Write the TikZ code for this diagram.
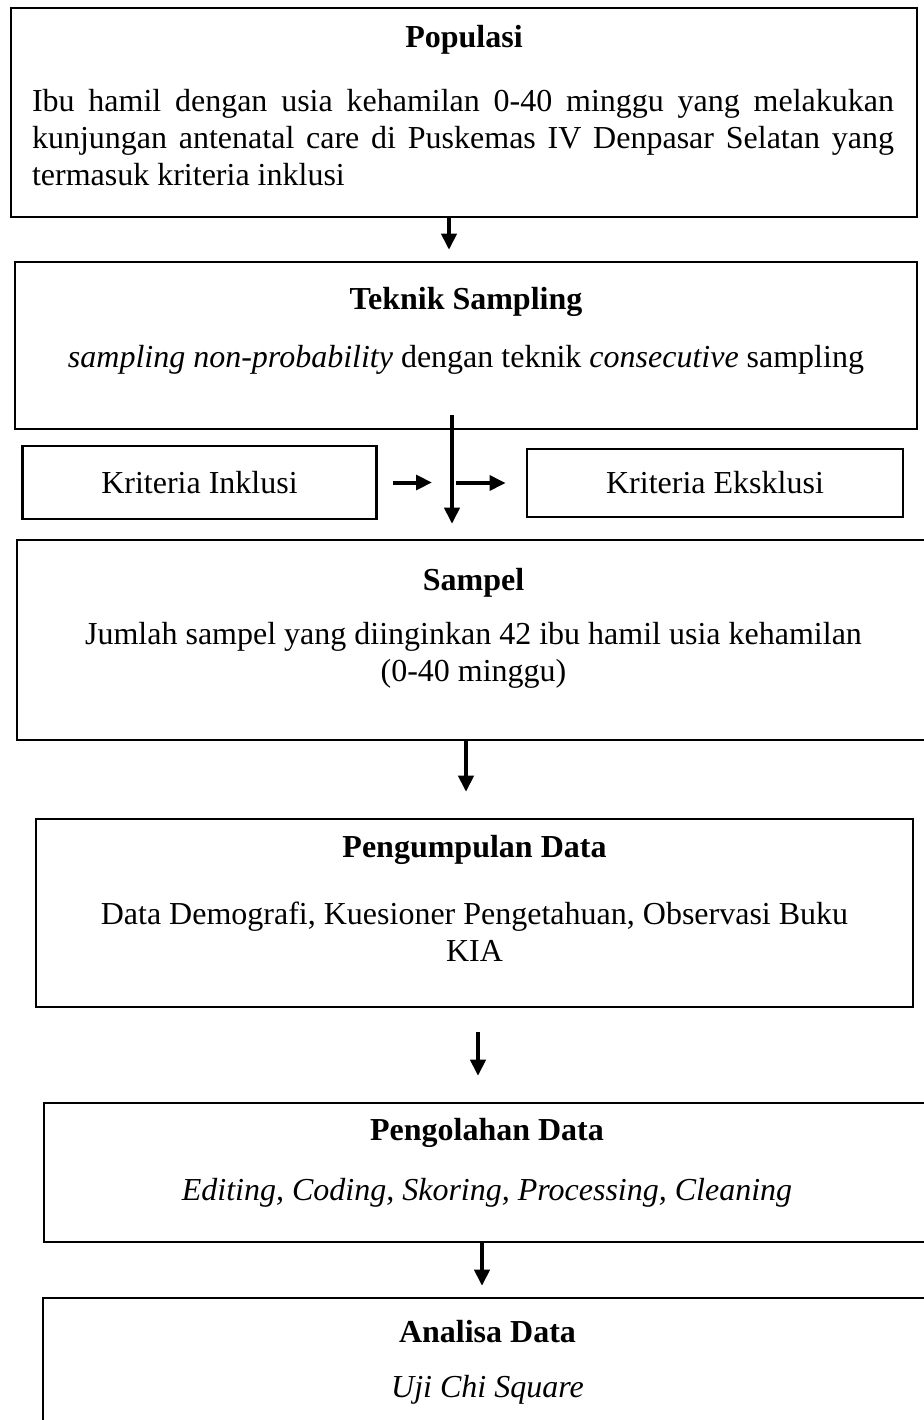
\documentclass[tikz,border=0pt]{standalone}
\usepackage{fontspec}
\setmainfont{Liberation Serif}
\usetikzlibrary{arrows.meta}
\hyphenpenalty=10000
\exhyphenpenalty=10000

\begin{document}
\begin{tikzpicture}[x=0.75pt,y=0.75pt,yscale=-1,
	box/.style={draw,line width=2pt,inner sep=0pt},
	ttl/.style={font=\fontsize{24}{27.75}\selectfont\bfseries,inner sep=0pt},
	txt/.style={font=\fontsize{24}{27.75}\selectfont,inner sep=0pt,align=center},
	arr/.style={line width=2.4pt,-{Triangle[length=12pt,width=11.5pt]}},
	sarr/.style={line width=3pt,-{Triangle[length=12pt,width=11pt]}}]
	\useasboundingbox (0,0) rectangle (924,1420);
	\clip (0,0) rectangle (924,1420);
	
	% Boxes
	\node [box,minimum width=679.5pt,minimum height=156.75pt] (pop) at (464,112.5) {};
	\node [box,minimum width=676.5pt,minimum height=125.25pt] (tek) at (466,345.5) {};
	\node [box,txt,minimum width=265.5pt,minimum height=54.75pt] (inkl) at (199.5,482.5) {Kriteria Inklusi};
	\node [box,txt,minimum width=282pt,minimum height=51pt] (eksk) at (715,483) {Kriteria Eksklusi};
	\node [box,minimum width=684.75pt,minimum height=150pt] (smp) at (473.5,640) {};
	\node [box,minimum width=657.75pt,minimum height=141pt] (pgm) at (474.5,913) {};
	\node [box,minimum width=664.5pt,minimum height=104.25pt] (pgl) at (487,1172.5) {};
	\node [box,minimum width=666.75pt,minimum height=121.5pt] (anl) at (487.5,1379) {};
	
	% Text Node
	\node [ttl] (popT) at (464,40) {Populasi};
	\node [txt,text width=646.5pt,align=justify] (popB) at (463,137.5) {Ibu hamil dengan usia kehamilan 0-40 minggu yang melakukan kunjungan antenatal care di Puskemas IV Denpasar Selatan yang termasuk kriteria inklusi};
	% Text Node
	\node [ttl] (tekT) at (466,302) {Teknik Sampling};
	\node [txt] (tekB) at (466,360) {\textit{sampling non-probability} dengan teknik \textit{consecutive} sampling};
	% Text Node
	\node [ttl] (smpT) at (473.5,583) {Sampel};
	\node [txt] (smpB) at (473.5,655) {Jumlah sampel yang diinginkan 42 ibu hamil usia kehamilan\\(0-40 minggu)};
	% Text Node
	\node [ttl] (pgmT) at (474.5,850) {Pengumpulan Data};
	\node [txt] (pgmB) at (474.5,931.5) {Data Demografi, Kuesioner Pengetahuan, Observasi Buku\\KIA};
	% Text Node
	\node [ttl] (pglT) at (487,1133) {Pengolahan Data};
	\node [txt] (pglB) at (487,1193) {\textit{Editing, Coding, Skoring, Processing, Cleaning}};
	% Text Node
	\node [ttl] (anlT) at (487.5,1332) {Analisa Data};
	\node [txt] (anlB) at (487.5,1390) {\textit{Uji Chi Square}};
	
	% Arrows
	\coordinate (c1) at (449,0);
	\coordinate (sp) at (452,415);
	\coordinate (c2) at (466,0);
	\coordinate (c3) at (478,0);
	\coordinate (c4) at (482,0);
	\draw [arr,shorten >=8.25pt] (pop.south -| c1) -- (tek.north -| c1);
	\draw [arr,shorten >=11.25pt] (sp) -- (smp.north -| sp);
	\draw [sarr,shorten <=11.25pt,shorten >=15pt] (inkl.east) -- (inkl.east -| sp);
	\draw [sarr,shorten <=3pt,shorten >=15pt] (eksk.west -| sp) -- (eksk.west);
	\draw [arr,shorten >=19.5pt] (smp.south -| c2) -- (pgm.north -| c2);
	\draw [arr,shorten <=18pt,shorten >=19.5pt] (pgm.south -| c3) -- (pgl.north -| c3);
	\draw [arr,shorten >=8.25pt] (pgl.south -| c4) -- (anl.north -| c4);
\end{tikzpicture}
\end{document}
